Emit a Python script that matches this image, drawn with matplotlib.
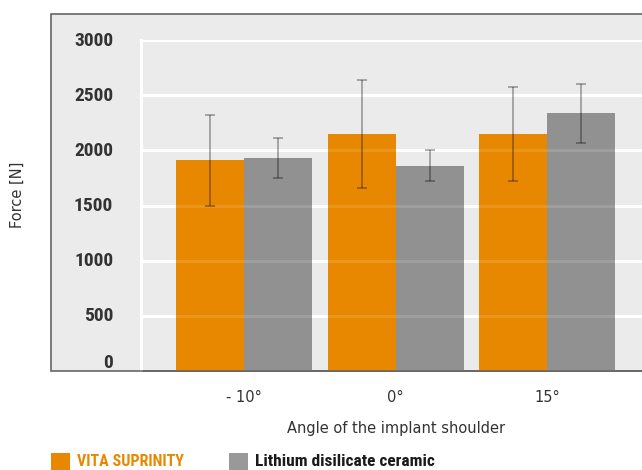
import matplotlib
matplotlib.use("Agg")
import matplotlib.pyplot as plt
import matplotlib.transforms as mtransforms
import numpy as np
from matplotlib.patches import Rectangle
from matplotlib import font_manager as fm

categories = ["- 10°", "0°", "15°"]
vita_values = [1910, 2145, 2150]
vita_err = [410, 490, 425]
lith_values = [1930, 1860, 2335]
lith_err = [180, 140, 270]
series_names = ["VITA SUPRINITY", "Lithium disilicate ceramic"]
yticks = [0, 500, 1000, 1500, 2000, 2500, 3000]

names = {f.name for f in fm.fontManager.ttflist}
cond = "DejaVu Sans"
for cand in ["Roboto Condensed", "Barlow Semi Condensed", "Archivo Narrow", "Asap Condensed", "Barlow Condensed"]:
    if cand in names:
        cond = cand
        break

ORANGE = "#E88800"
GREY = "#919191"
BG = "#EBEBEB"
TXT = "#333333"

W, H = 642, 470
fig = plt.figure(figsize=(W / 100, H / 100), dpi=100)
fig.patch.set_facecolor("white")

def fx(px):
    return px / W

def fy(py):
    return (H - py) / H

# outer grey panel
panel = Rectangle((fx(51), fy(371)), fx(700) - fx(51), fy(14) - fy(371),
                  transform=fig.transFigure, facecolor=BG, edgecolor="#666666",
                  linewidth=1.2, zorder=-10)
fig.patches.append(panel)

ax = fig.add_axes([fx(141), fy(371), 1 - fx(141), fy(40) - fy(371)])
ax.set_zorder(1)
ax.patch.set_visible(False)

x = np.arange(len(categories))
unit = 151.5
bw = 68 / unit
ax.set_xlim(-(244 - 141) / unit, (642 - 244) / unit)
ax.set_ylim(0, 3000)

for yv in yticks[1:]:
    ax.axhline(yv, color="white", lw=2.2, zorder=0.5)

ax.bar(x - bw / 2, vita_values, width=bw, color=ORANGE, zorder=2)
ax.bar(x + bw / 2, lith_values, width=bw, color=GREY, zorder=2)

for yv in yticks[1:]:
    ax.axhline(yv, color="white", lw=2.2, alpha=0.12, zorder=2.5)

ekw = dict(fmt="none", ecolor=(0, 0, 0, 0.33), elinewidth=1.3, capsize=3.8, capthick=1.3, zorder=3)
ax.errorbar(x - bw / 2, vita_values, yerr=vita_err, **ekw)
ax.errorbar(x + bw / 2, lith_values, yerr=lith_err, **ekw)

for s in ["top", "right"]:
    ax.spines[s].set_visible(False)
ax.spines["left"].set_color("white")
ax.spines["left"].set_linewidth(2.2)
ax.spines["bottom"].set_color("#666666")
ax.spines["bottom"].set_linewidth(1.2)

ax.set_yticks(yticks)
ax.set_yticklabels([str(v) for v in yticks], fontfamily=cond, fontweight="bold",
                   fontsize=14, color=TXT)
ax.tick_params(axis="y", length=0, pad=20)
# the zero label sits above the baseline
lbl0 = ax.get_yticklabels()[0]
lbl0.set_transform(lbl0.get_transform() + mtransforms.ScaledTranslation(0, 10 / 100, fig.dpi_scale_trans))
for lbl in ax.get_yticklabels()[1:]:
    lbl.set_transform(lbl.get_transform() + mtransforms.ScaledTranslation(0, 1.5 / 100, fig.dpi_scale_trans))
ax.set_xticks(x)
ax.set_xticklabels(categories, fontsize=10.5, color=TXT)
ax.tick_params(axis="x", length=0, pad=14)

fig.text(fx(17), fy(195), "Force [N]", rotation=90, ha="center", va="center",
         fontsize=10.5, color=TXT)
fig.text(fx(396), fy(428), "Angle of the implant shoulder", ha="center", va="center",
         fontsize=10.5, color=TXT)

# legend
fig.patches.append(Rectangle((fx(51), fy(471)), fx(19), fy(453) - fy(471),
                             transform=fig.transFigure, facecolor=ORANGE, edgecolor="none"))
fig.text(fx(77), fy(462), series_names[0], ha="left", va="center", fontfamily=cond,
         fontweight="bold", fontsize=11.5, color=ORANGE)
fig.patches.append(Rectangle((fx(229), fy(471)), fx(19), fy(453) - fy(471),
                             transform=fig.transFigure, facecolor="#999999", edgecolor="none"))
fig.text(fx(255), fy(462), series_names[1], ha="left", va="center", fontfamily=cond,
         fontweight="bold", fontsize=12.5, color="#1a1a1a")

fig.savefig("out.png", dpi=100)
